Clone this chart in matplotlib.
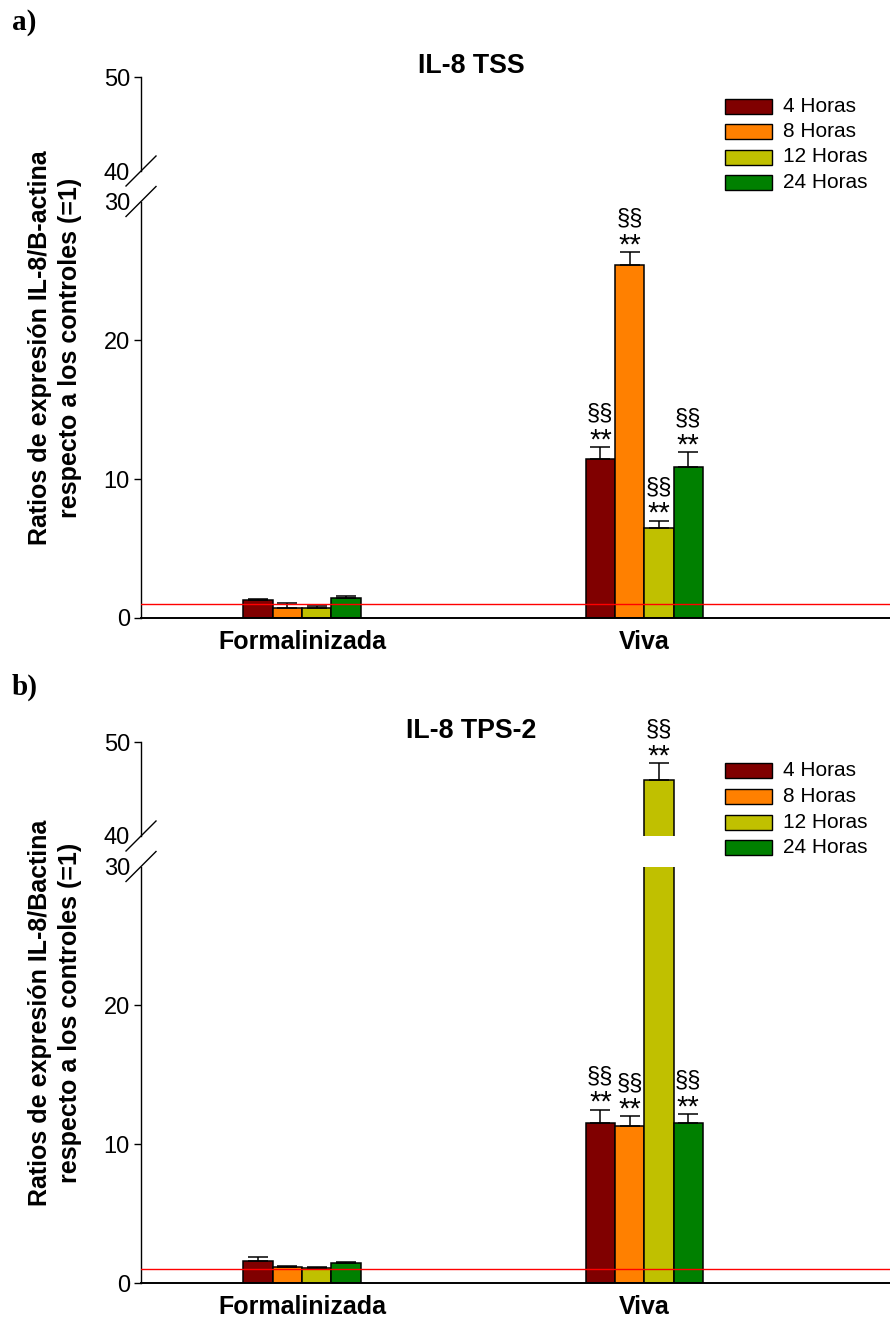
import matplotlib
matplotlib.use("Agg")
import matplotlib.pyplot as plt
from matplotlib.lines import Line2D
from matplotlib.patches import Rectangle
import numpy as np

plt.rcParams["font.family"] = ["Liberation Sans", "DejaVu Sans"]

W, H = 890, 1324
DPI = 100

# ---- data -------------------------------------------------------------
groups = ["Formalinizada", "Viva"]
series = ["4 Horas", "8 Horas", "12 Horas", "24 Horas"]
colors = ["#800000", "#ff8000", "#c0c000", "#008000"]

# mean expression ratio per series (rows) and group (columns)
tss_mean = [[1.30, 11.44], [0.74, 25.45], [0.69, 6.49], [1.41, 10.91]]
tss_err = [[0.07, 0.90], [0.34, 0.92], [0.19, 0.53], [0.18, 1.06]]
tps_mean = [[1.58, 11.53], [1.12, 11.29], [1.05, 45.93], [1.41, 11.51]]
tps_err = [[0.26, 0.96], [0.10, 0.72], [0.12, 1.87], [0.10, 0.67]]
# significance marks per series and group
tss_sig = [[False, True]] * 4
tps_sig = [[False, True]] * 4

control_level = 1.0
lower_ticks = [0, 10, 20, 30]
upper_ticks = [40, 50]

# ---- layout helpers (pixel -> figure fraction) -------------------------
def fx(px):
    return px / W


def fy(py):
    return 1 - py / H


AX_L, AX_R = 141, 890
X_CENTER = [302.0, 644.3]
UNIT = X_CENTER[1] - X_CENTER[0]
BAR_W = 29.3 / UNIT
XLIM = ((AX_L - X_CENTER[0]) / UNIT, (AX_R - X_CENTER[0]) / UNIT)

fig = plt.figure(figsize=(W / DPI, H / DPI), dpi=DPI)


def draw_panel(off, title, ylabel, letter, means, errs, sig):
    y0, y30, y40, y50 = 618 + off, 201.5 + off, 171 + off, 77 + off
    ax_lo = fig.add_axes([fx(AX_L), fy(y0), fx(AX_R) - fx(AX_L), fy(y30) - fy(y0)])
    ax_hi = fig.add_axes([fx(AX_L), fy(y40), fx(AX_R) - fx(AX_L), fy(y50) - fy(y40)])
    ax_lo.set_ylim(0, 30)
    ax_hi.set_ylim(40, 50)

    x = np.arange(len(groups))
    for ax in (ax_lo, ax_hi):
        ax.set_xlim(*XLIM)
        ax.patch.set_alpha(0)
        for s in ("top", "right"):
            ax.spines[s].set_visible(False)
        ax.spines["left"].set_linewidth(1.0)
        ax.tick_params(axis="y", direction="out", length=5, width=1.0,
                       labelsize=17, pad=3)
        for i in range(len(series)):
            xs = x + (i - 1.5) * BAR_W
            ax.bar(xs, means[i], width=BAR_W, color=colors[i],
                   edgecolor="black", linewidth=1.1, zorder=2)
            ax.errorbar(xs, means[i],
                        yerr=[np.zeros(len(groups)), errs[i]],
                        fmt="none", ecolor="black", elinewidth=1.1,
                        capsize=7, capthick=1.1, zorder=3)
        ax.axhline(control_level, color="red", linewidth=1.0, zorder=4)

    ax_hi.spines["bottom"].set_visible(False)
    ax_hi.tick_params(axis="x", bottom=False, labelbottom=False)
    ax_lo.spines["bottom"].set_linewidth(1.4)
    ax_lo.set_xticks(x)
    ax_lo.set_xticklabels(groups, fontsize=18, fontweight="bold")
    ax_lo.tick_params(axis="x", length=0, pad=9)

    ax_lo.set_yticks(lower_ticks)
    ax_hi.set_yticks(upper_ticks)
    ax_lo.yaxis.get_major_ticks()[-1].tick1line.set_visible(False)
    ax_hi.yaxis.get_major_ticks()[0].tick1line.set_visible(False)

    # significance labels above the error bars
    for i in range(len(series)):
        for g in range(len(groups)):
            if not sig[i][g]:
                continue
            top = means[i][g] + errs[i][g]
            ax = ax_hi if top > 30 else ax_lo
            xs = x[g] + (i - 1.5) * BAR_W
            ax.annotate("**", xy=(xs, top), xytext=(0, -1.0),
                        textcoords="offset points", ha="center",
                        va="baseline", fontsize=21, zorder=5,
                        annotation_clip=False)
            ax.annotate("§§", xy=(xs, top), xytext=(0, 19.5),
                        textcoords="offset points", ha="center",
                        va="baseline", fontsize=17, zorder=5,
                        annotation_clip=False)

    # break marks on the y axis
    for yc in (y40, y30):
        fig.add_artist(Line2D([fx(AX_L - 15), fx(AX_L + 15)],
                              [fy(yc + 15), fy(yc - 15)],
                              transform=fig.transFigure, color="black",
                              linewidth=1.0))

    fig.text(fx(471), fy(66 + off), title, ha="center", va="center",
             fontsize=19.3, fontweight="bold")
    fig.text(fx(55), fy(348 + off), ylabel, ha="center", va="center",
             rotation=90, fontsize=18, fontweight="bold",
             multialignment="center", linespacing=1.35)
    fig.text(fx(12), fy(22 + off), letter, ha="left", va="center",
             fontsize=21, fontweight="bold",
             family=["Liberation Serif", "DejaVu Serif"])

    # legend
    for i, name in enumerate(series):
        yc = 106 + off + i * 25.5
        fig.add_artist(Rectangle((fx(725), fy(yc + 7.5)), fx(772) - fx(725),
                                 fy(yc - 7.5) - fy(yc + 7.5),
                                 transform=fig.transFigure,
                                 facecolor=colors[i], edgecolor="black",
                                 linewidth=1.0))
        fig.text(fx(783), fy(yc), name, ha="left", va="center", fontsize=15)


draw_panel(0, "IL-8 TSS",
           "Ratios de expresión IL-8/B-actina\nrespecto a los controles (=1)",
           "a)", tss_mean, tss_err, tss_sig)
draw_panel(665, "IL-8 TPS-2",
           "Ratios de expresión IL-8/Bactina\nrespecto a los controles (=1)",
           "b)", tps_mean, tps_err, tps_sig)

fig.savefig("out.png", dpi=DPI)
